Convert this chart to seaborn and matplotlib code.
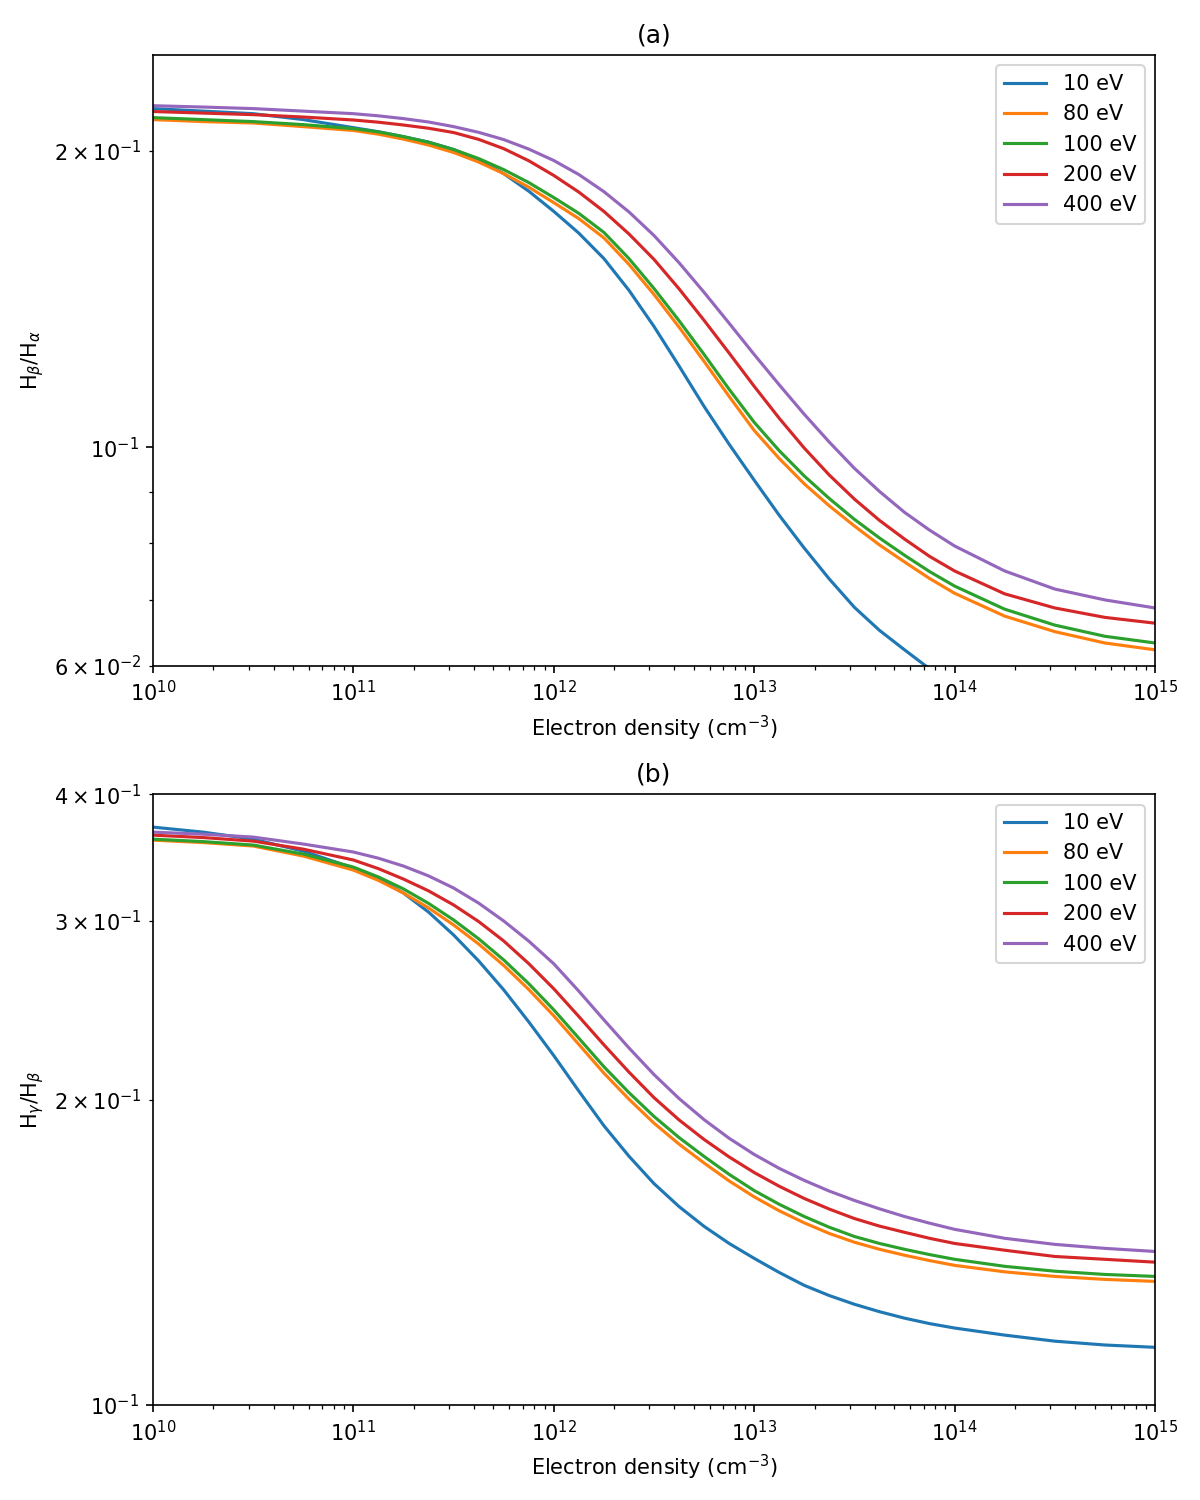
import matplotlib
matplotlib.use("Agg")
import matplotlib.pyplot as plt
import seaborn as sns

# electron density grid (log10 of cm^-3)
log_ne = [10, 10.25, 10.5, 10.75, 11, 11.125, 11.25, 11.375, 11.5, 11.625,
          11.75, 11.875, 12, 12.125, 12.25, 12.375, 12.5, 12.625, 12.75,
          12.875, 13, 13.125, 13.25, 13.375, 13.5, 13.625, 13.75, 13.875,
          14, 14.25, 14.5, 14.75, 15]
ne = [10.0 ** e for e in log_ne]

labels = ["10 eV", "80 eV", "100 eV", "200 eV", "400 eV"]
colors = ["#1f77b4", "#ff7f0e", "#2ca02c", "#d62728", "#9467bd"]

# (a) H_beta / H_alpha
hb_ha_10 = [0.2206, 0.2193, 0.2180, 0.2150, 0.2110, 0.2090, 0.2066, 0.2040,
            0.2005, 0.1957, 0.1895, 0.1819, 0.1735, 0.1649, 0.1554, 0.1443,
            0.1326, 0.1209, 0.1100, 0.1007, 0.0926, 0.0853, 0.0790, 0.0735,
            0.0688, 0.0652, 0.0623, 0.0596, 0.0574]
hb_ha_80 = [0.2150, 0.2140, 0.2133, 0.2115, 0.2096, 0.2078, 0.2054, 0.2026,
            0.1991, 0.1947, 0.1895, 0.1836, 0.1771, 0.1706, 0.1631, 0.1533,
            0.1429, 0.1324, 0.1222, 0.1126, 0.1040, 0.0974, 0.0918, 0.0872,
            0.0832, 0.0796, 0.0765, 0.0736, 0.0711, 0.0674, 0.0650, 0.0633,
            0.0623]
hb_ha_100 = [0.2160, 0.2150, 0.2140, 0.2125, 0.2105, 0.2089, 0.2066, 0.2039,
             0.2005, 0.1963, 0.1913, 0.1856, 0.1792, 0.1727, 0.1652, 0.1554,
             0.1449, 0.1344, 0.1242, 0.1145, 0.1060, 0.0992, 0.0935, 0.0887,
             0.0845, 0.0809, 0.0777, 0.0748, 0.0723, 0.0685, 0.0660, 0.0643,
             0.0633]
hb_ha_200 = [0.2191, 0.2183, 0.2175, 0.2163, 0.2148, 0.2137, 0.2123, 0.2107,
             0.2086, 0.2053, 0.2009, 0.1953, 0.1887, 0.1815, 0.1735, 0.1646,
             0.1551, 0.1448, 0.1345, 0.1246, 0.1153, 0.1070, 0.0998, 0.0937,
             0.0886, 0.0843, 0.0807, 0.0775, 0.0749, 0.0710, 0.0687, 0.0672,
             0.0663]
hb_ha_400 = [0.2221, 0.2214, 0.2206, 0.2193, 0.2180, 0.2169, 0.2155, 0.2138,
             0.2115, 0.2087, 0.2052, 0.2007, 0.1954, 0.1891, 0.1817, 0.1733,
             0.1640, 0.1539, 0.1436, 0.1336, 0.1242, 0.1157, 0.1080, 0.1012,
             0.0952, 0.0902, 0.0859, 0.0824, 0.0794, 0.0749, 0.0718, 0.0700,
             0.0687]

# (b) H_gamma / H_beta
hg_hb_10 = [0.3712, 0.3670, 0.3612, 0.3515, 0.3383, 0.3300, 0.3196, 0.3061,
            0.2906, 0.2740, 0.2566, 0.2386, 0.2210, 0.2039, 0.1885, 0.1759,
            0.1653, 0.1569, 0.1500, 0.1443, 0.1395, 0.1351, 0.1312, 0.1282,
            0.1257, 0.1236, 0.1218, 0.1203, 0.1191, 0.1172, 0.1156, 0.1146,
            0.1140]
hg_hb_80 = [0.3604, 0.3584, 0.3556, 0.3476, 0.3367, 0.3289, 0.3196, 0.3090,
            0.2973, 0.2847, 0.2712, 0.2568, 0.2419, 0.2267, 0.2124, 0.2002,
            0.1896, 0.1808, 0.1732, 0.1663, 0.1604, 0.1554, 0.1512, 0.1476,
            0.1447, 0.1424, 0.1405, 0.1388, 0.1373, 0.1353, 0.1339, 0.1330,
            0.1324]
hg_hb_100 = [0.3612, 0.3592, 0.3564, 0.3492, 0.3390, 0.3315, 0.3226, 0.3122,
             0.3007, 0.2881, 0.2746, 0.2602, 0.2452, 0.2299, 0.2155, 0.2032,
             0.1925, 0.1835, 0.1758, 0.1688, 0.1627, 0.1577, 0.1534, 0.1497,
             0.1466, 0.1443, 0.1424, 0.1407, 0.1392, 0.1370, 0.1355, 0.1345,
             0.1339]
hg_hb_200 = [0.3645, 0.3625, 0.3596, 0.3531, 0.3445, 0.3378, 0.3299, 0.3212,
             0.3111, 0.2996, 0.2867, 0.2723, 0.2572, 0.2415, 0.2265, 0.2129,
             0.2009, 0.1910, 0.1827, 0.1756, 0.1695, 0.1643, 0.1598, 0.1560,
             0.1527, 0.1501, 0.1480, 0.1460, 0.1443, 0.1421, 0.1401, 0.1392,
             0.1383]
hg_hb_400 = [0.3670, 0.3653, 0.3629, 0.3572, 0.3508, 0.3459, 0.3398, 0.3323,
             0.3233, 0.3124, 0.3000, 0.2866, 0.2722, 0.2558, 0.2397, 0.2249,
             0.2117, 0.2005, 0.1911, 0.1832, 0.1766, 0.1711, 0.1665, 0.1625,
             0.1591, 0.1561, 0.1534, 0.1511, 0.1490, 0.1460, 0.1440, 0.1427,
             0.1417]

panels = [
    ("(a)", r"H$_\beta$/H$_\alpha$", [hb_ha_10, hb_ha_80, hb_ha_100, hb_ha_200, hb_ha_400], (0.06, 0.25)),
    ("(b)", r"H$_\gamma$/H$_\beta$", [hg_hb_10, hg_hb_80, hg_hb_100, hg_hb_200, hg_hb_400], (0.1, 0.4)),
]

fig, axes = plt.subplots(2, 1, figsize=(8, 10), dpi=150)
fig.subplots_adjust(left=0.1275, right=0.9625, top=0.9633, bottom=0.0633, hspace=0.21)

for ax, (title, ylab, series, ylim) in zip(axes, panels):
    for vals, lab, col in zip(series, labels, colors):
        sns.lineplot(x=ne[:len(vals)], y=vals, ax=ax, color=col, label=lab, linewidth=1.5)
    ax.set_xscale("log")
    ax.set_yscale("log")
    ax.set_xlim(1e10, 1e15)
    ax.set_ylim(*ylim)
    ax.set_title(title)
    ax.set_xlabel(r"Electron density (cm$^{-3}$)")
    ax.set_ylabel(ylab)
    ax.legend(loc="upper right")

plt.savefig("out.png", dpi=150)
